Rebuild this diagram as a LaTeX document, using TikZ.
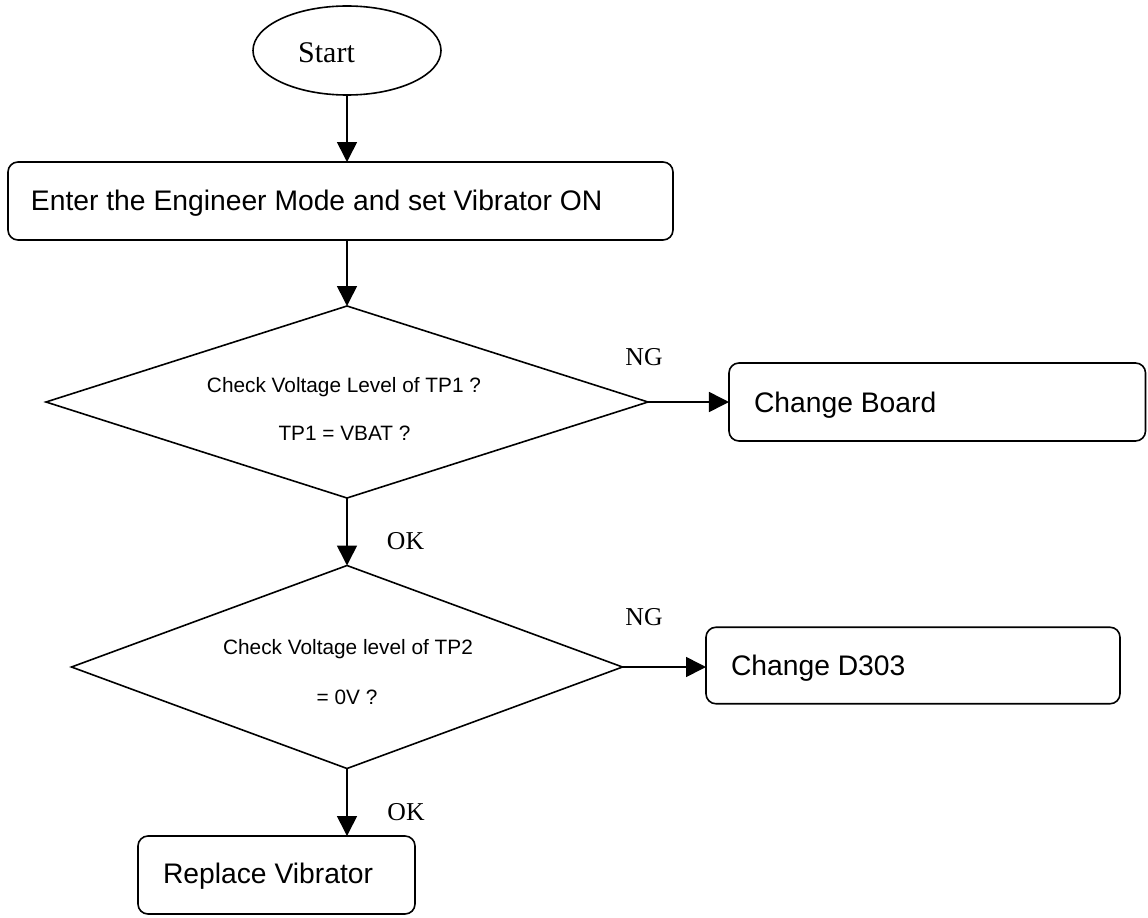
\documentclass[tikz,border=0pt]{standalone}
\usepackage{fontspec}
\setmainfont{Liberation Serif}
\setsansfont{Liberation Sans}
\usetikzlibrary{shapes.geometric,arrows.meta,calc}
\begin{document}
\begin{tikzpicture}[x=0.75pt,y=-0.75pt,
  line width=1.2pt,
  every node/.style={inner sep=0pt, outer sep=0pt},
  shapebox/.style={draw, rounded corners=7.5pt},
  decision/.style={draw, diamond},
  flow/.style={-{Triangle[length=15pt,width=15pt]}},
  boxtext/.style={anchor=base west, font=\sffamily\fontsize{21.2pt}{25pt}\selectfont},
  dtext/.style={anchor=base, font=\sffamily\fontsize{15.6pt}{18pt}\selectfont},
  lbl/.style={anchor=base, font=\rmfamily\fontsize{19.3pt}{22pt}\selectfont}
]
\useasboundingbox (0,0) rectangle (1148,917);

% shapes
\node[draw, ellipse, minimum width=141pt, minimum height=66.75pt] (start) at (347,50.5) {};
\node[shapebox, minimum width=498.75pt, minimum height=58.5pt] (b1) at (340.5,201) {};
\node[decision, minimum width=451.5pt, minimum height=144pt] (d1) at (347,402) {};
\node[shapebox, minimum width=312.4pt, minimum height=58.5pt] (cb) at (937.25,402) {};
\node[decision, minimum width=413.25pt, minimum height=152.25pt] (d2) at (347,667) {};
\node[shapebox, minimum width=310.5pt, minimum height=57.4pt] (cd) at (913,665.5) {};
\node[shapebox, minimum width=207.75pt, minimum height=58.5pt] (rv) at (276.5,875) {};

% texts
\node[anchor=base, font=\rmfamily\fontsize{22.5pt}{26pt}\selectfont] (tstart) at (326.5,62.3) {Start};
\node[boxtext] (tb1) at (31,210) {Enter the Engineer Mode and set Vibrator ON};
\node[dtext] (td1a) at (344,392.5) {Check Voltage Level of TP1 ?};
\node[dtext] (td1b) at (344.5,440.5) {TP1 = VBAT ?};
\node[boxtext] (tcb) at (754,412) {Change Board};
\node[dtext] (td2a) at (348,654.5) {Check Voltage level of TP2};
\node[dtext] (td2b) at (347,704.5) {= 0V ?};
\node[boxtext] (tcd) at (731,675) {Change D303};
\node[boxtext] (trv) at (163,883) {Replace Vibrator};

% labels
\node[lbl] (ng1) at (644,365) {NG};
\node[lbl] (ok1) at (405.5,549) {OK};
\node[lbl] (ng2) at (644,625) {NG};
\node[lbl] (ok2) at (406,820) {OK};

% connectors
\draw[flow] (start.south) -- (start.south |- b1.north);
\draw[flow] (b1.south -| d1.north) -- (d1.north);
\draw[flow] (d1.east) -- (d1.east -| cb.west);
\draw[flow] (d1.south) -- (d2.north);
\draw[flow] (d2.east) -- (d2.east -| cd.west);
\draw[flow] (d2.south) -- (d2.south |- rv.north);
\end{tikzpicture}
\end{document}
